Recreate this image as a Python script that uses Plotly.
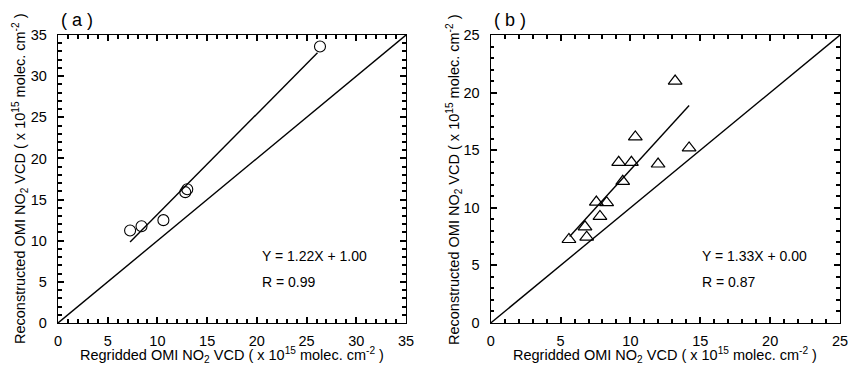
import plotly.graph_objects as go

# Panel (a) data
a_x = [7.25, 8.4, 10.6, 12.8, 13.0, 26.35]
a_y = [11.25, 11.75, 12.5, 15.9, 16.25, 33.6]
a_fit_x = [7.25, 26.1]
a_slope, a_icpt = 1.22, 1.00

# Panel (b) data
b_x = [5.6, 6.75, 6.87, 7.56, 7.82, 8.3, 9.16, 9.45, 10.07, 10.35, 11.98, 13.2, 14.2]
b_y = [7.25, 8.35, 7.45, 10.5, 9.25, 10.45, 13.95, 12.3, 13.95, 16.15, 13.8, 21.0, 15.2]
b_fit_x = [5.65, 14.2]
b_slope, b_icpt = 1.33, 0.00

a_max, b_max = 35, 25
major_step, minor_step = 5, 1

W, H = 848, 365
FONT = "Arial, Liberation Sans, sans-serif"
BLACK = "#000000"

fig = go.Figure()

# panel a
fig.add_trace(go.Scatter(x=[0, a_max], y=[0, a_max], mode="lines",
                         line=dict(color=BLACK, width=1.4), xaxis="x", yaxis="y", showlegend=False))
fig.add_trace(go.Scatter(x=a_fit_x, y=[a_slope * v + a_icpt for v in a_fit_x], mode="lines",
                         line=dict(color=BLACK, width=1.4), xaxis="x", yaxis="y", showlegend=False))
fig.add_trace(go.Scatter(x=a_x, y=a_y, mode="markers",
                         marker=dict(symbol="circle-open", size=11, color=BLACK, line=dict(width=1.1)),
                         xaxis="x", yaxis="y", showlegend=False))
# panel b
fig.add_trace(go.Scatter(x=[0, b_max], y=[0, b_max], mode="lines",
                         line=dict(color=BLACK, width=1.4), xaxis="x2", yaxis="y2", showlegend=False))
fig.add_trace(go.Scatter(x=b_fit_x, y=[b_slope * v + b_icpt for v in b_fit_x], mode="lines",
                         line=dict(color=BLACK, width=1.4), xaxis="x2", yaxis="y2", showlegend=False))
fig.add_trace(go.Scatter(x=b_x, y=b_y, mode="markers",
                         marker=dict(symbol="triangle-up-open", size=12, color=BLACK, line=dict(width=1.2)),
                         xaxis="x2", yaxis="y2", showlegend=False))


def ax(rng, domain, anchor, is_x):
    d = dict(range=rng, domain=domain, anchor=anchor, showgrid=False, zeroline=False,
             showline=True, linecolor=BLACK, linewidth=1.3, mirror="allticks",
             ticks="inside", ticklen=6, tickwidth=1.7, tickcolor=BLACK,
             tickmode="linear", tick0=0, dtick=major_step,
             minor=dict(ticks="inside", ticklen=3.5, tickwidth=1.7, tickcolor=BLACK,
                        tickmode="linear", tick0=0, dtick=minor_step, showgrid=False),
             tickfont=dict(family=FONT, size=14.5, color=BLACK),
             ticklabelstandoff=4 if is_x else 7, ticklabeloverflow="allow",
             automargin=False, fixedrange=True)
    return d


ya = [1 - 323 / H, 1 - 35 / H]
xa_dom = [58 / W, 406 / W]
xb_dom = [490.7 / W, 840 / W]

fig.update_layout(
    width=W, height=H,
    margin=dict(l=0, r=0, t=0, b=0),
    paper_bgcolor="white", plot_bgcolor="white",
    font=dict(family=FONT, color=BLACK, size=14),
    xaxis=ax([0, a_max], xa_dom, "y", True),
    yaxis=ax([0, a_max], ya, "x", False),
    xaxis2=ax([0, b_max], xb_dom, "y2", True),
    yaxis2=ax([0, b_max], ya, "x2", False),
)

xtitle = "Regridded OMI NO<sub>2</sub> VCD ( x 10<sup>15</sup> molec. cm<sup>-2</sup> )"
ytitle = "Reconstructed OMI NO<sub>2</sub> VCD ( x 10<sup>15</sup> molec. cm<sup>-2</sup> )"

panels = [
    dict(cx=(58 + 406) / 2, yx=20, lab="( a )", labx=59, eqx=260,
         eq=f"Y = {a_slope:.2f}X + {a_icpt:.2f}", r="R = 0.99"),
    dict(cx=(490.7 + 840) / 2, yx=454, lab="( b )", labx=492, eqx=700,
         eq=f"Y = {b_slope:.2f}X + {b_icpt:.2f}", r="R = 0.87"),
]
ann = []
for p in panels:
    ann.append(dict(text=xtitle, x=p["cx"] / W, y=1 - 355 / H, xref="paper", yref="paper",
                    xanchor="center", yanchor="middle", showarrow=False,
                    font=dict(family=FONT, size=14.5, color=BLACK)))
    ann.append(dict(text=ytitle, x=p["yx"] / W, y=1 - 179 / H, xref="paper", yref="paper",
                    xanchor="center", yanchor="middle", showarrow=False, textangle=-90,
                    font=dict(family=FONT, size=14.5, color=BLACK)))
    ann.append(dict(text=p["lab"], x=p["labx"] / W, y=1 - 20 / H, xref="paper", yref="paper",
                    xanchor="left", yanchor="middle", showarrow=False,
                    font=dict(family=FONT, size=18, color=BLACK)))
    ann.append(dict(text=p["eq"], x=p["eqx"] / W, y=1 - 256 / H, xref="paper", yref="paper",
                    xanchor="left", yanchor="middle", showarrow=False,
                    font=dict(family=FONT, size=14, color=BLACK)))
    ann.append(dict(text=p["r"], x=p["eqx"] / W, y=1 - 282 / H, xref="paper", yref="paper",
                    xanchor="left", yanchor="middle", showarrow=False,
                    font=dict(family=FONT, size=14, color=BLACK)))

fig.update_layout(annotations=ann)
fig.write_html("out.html")
